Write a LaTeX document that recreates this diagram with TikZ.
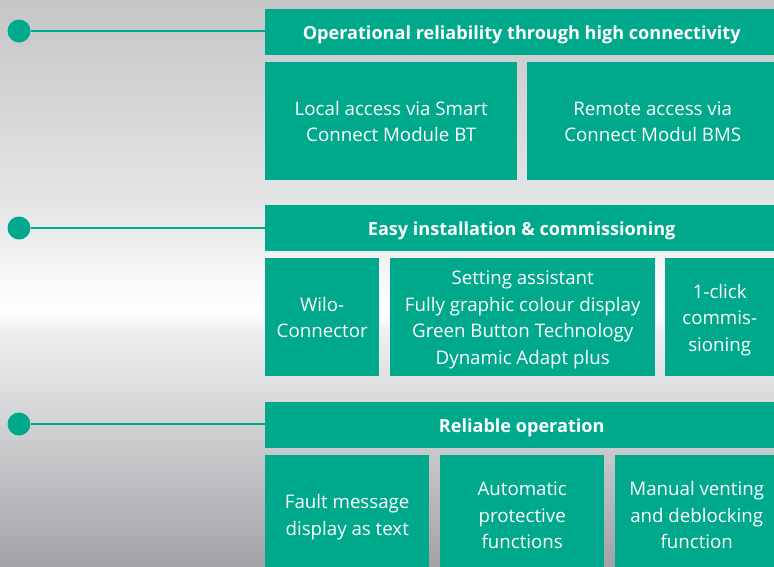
\documentclass[tikz,border=0pt]{standalone}
\usepackage{fontspec}
\setmainfont{Open Sans}
\definecolor{wgreen}{HTML}{00A98B}
\newcommand{\mystrut}{\rule[-5pt]{0pt}{25pt}}
\pgfdeclareverticalshading{bgshade}{100bp}{%
rgb(0bp)=(0.639,0.639,0.655);
rgb(25bp)=(0.639,0.639,0.655);
rgb(35.25bp)=(0.784,0.788,0.796);
rgb(41.43bp)=(0.875,0.878,0.886);
rgb(45.85bp)=(0.933,0.937,0.941);
rgb(47.17bp)=(0.996,0.996,0.996);
rgb(49.38bp)=(0.98,0.98,0.98);
rgb(52.92bp)=(0.937,0.941,0.945);
rgb(56.45bp)=(0.898,0.902,0.91);
rgb(66.17bp)=(0.831,0.835,0.843);
rgb(75bp)=(0.769,0.773,0.78);
rgb(100bp)=(0.769,0.773,0.78)}
\tikzset{
  gbox/.style={fill=wgreen, draw=none, inner sep=0pt, anchor=north west,
    text=white, align=center, font=\fontsize{18.7}{26.5}\selectfont},
  hbox/.style={gbox, minimum width=513pt, minimum height=46pt,
    text height=15.5pt, text depth=0pt,
    font=\bfseries\fontsize{18.1}{22}\selectfont},
  dot/.style={circle, fill=wgreen, draw=none, minimum size=23pt, inner sep=0pt},
  link/.style={draw=wgreen, line width=2.2pt}
}
\begin{document}
\begin{tikzpicture}[x=1pt,y=-1pt]
\useasboundingbox (0,0) rectangle (774,566);
\clip (0,0) rectangle (774,566);
\fill[shading=bgshade] (0,0) rectangle (774,566);

% headers
\node[hbox] (h1) at (265,9) {Operational reliability through high connectivity};
\node[hbox] (h2) at (265,205) {Easy installation \& commissioning};
\node[hbox] (h3) at (265,402) {Reliable operation};

% dots and links
\node[dot] (d1) at (19,31) {};
\node[dot] (d2) at (19,228) {};
\node[dot] (d3) at (19,424) {};
\draw[link] (d1) -- (d1 -| h1.west);
\draw[link] (d2) -- (d2 -| h2.west);
\draw[link] (d3) -- (d3 -| h3.west);

% row 1
\node[gbox, minimum width=252pt, minimum height=118pt] (b11) at (265,62)
  {\mystrut Local access via Smart\\\mystrut Connect Module BT};
\node[gbox, minimum width=251pt, minimum height=118pt] (b12) at (527,62)
  {\mystrut Remote access via\\\mystrut Connect Modul BMS};

% row 2
\node[gbox, minimum width=114pt, minimum height=118pt] (b21) at (265,258)
  {\mystrut Wilo-\\\mystrut Connector};
\node[gbox, minimum width=265pt, minimum height=118pt] (b22) at (390,258)
  {\mystrut Setting assistant\\\mystrut Fully graphic colour display\\\mystrut Green Button Technology\\\mystrut Dynamic Adapt plus};
\node[gbox, minimum width=109pt, minimum height=118pt] (b23) at (665,258)
  {\mystrut 1-click\\\mystrut commis-\\\mystrut sioning};

% row 3
\node[gbox, minimum width=164pt, minimum height=119pt] (b31) at (265,455)
  {\mystrut Fault message\\\mystrut display as text};
\node[gbox, minimum width=164pt, minimum height=119pt] (b32) at (440,455)
  {\mystrut Automatic\\\mystrut protective\\\mystrut functions};
\node[gbox, minimum width=163pt, minimum height=119pt] (b33) at (615,455)
  {\mystrut Manual venting\\\mystrut and deblocking\\\mystrut function};
\end{tikzpicture}
\end{document}
